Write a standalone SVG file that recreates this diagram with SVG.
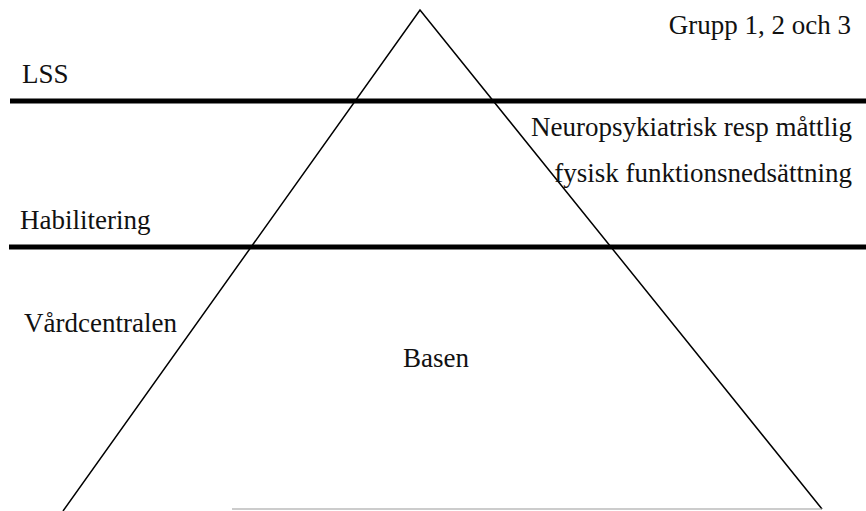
<svg xmlns="http://www.w3.org/2000/svg" width="866" height="511" viewBox="0 0 866 511">
<style>
text{font-family:"Liberation Serif",Tinos,"Times New Roman",serif;font-size:27px;fill:#111}
.band{stroke:#000;stroke-width:5}
.tri{fill:none;stroke:#000;stroke-width:1.5;stroke-linejoin:miter}
</style>
<rect width="866" height="511" fill="#fff"/>
<g id="bands">
<line class="band" x1="10" y1="101" x2="866" y2="101"/>
<line class="band" x1="9" y1="247" x2="866" y2="247"/>
</g>
<g id="pyramid">
<polyline class="tri" points="63,511 420,10 822,509"/>
<line x1="232" y1="509" x2="822" y2="509" stroke="#999" stroke-width="1.2"/>
</g>
<g id="labels">
<text x="22" y="83">LSS</text>
<text x="20" y="229">Habilitering</text>
<text x="24" y="332">Vårdcentralen</text>
<text x="403" y="367">Basen</text>
<text x="851" y="34" text-anchor="end">Grupp 1, 2 och 3</text>
<text x="852" y="136" text-anchor="end">Neuropsykiatrisk resp måttlig</text>
<text x="852" y="182" text-anchor="end">fysisk funktionsnedsättning</text>
</g>
</svg>
